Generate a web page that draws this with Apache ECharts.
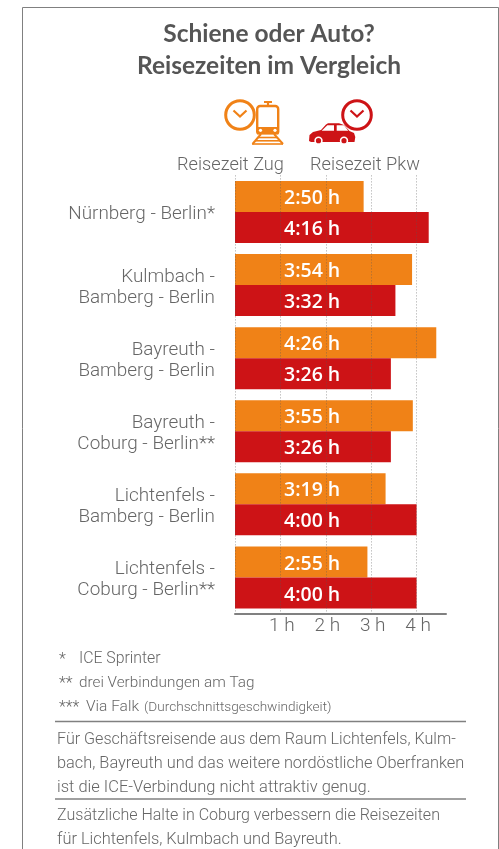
<!DOCTYPE html>
<html><head><meta charset="utf-8">
<style>html,body{margin:0;padding:0;background:#fff}#c{width:499px;height:849px}</style>
<script src="https://cdn.jsdelivr.net/npm/echarts@6/dist/echarts.min.js"></script>
</head><body><div id="c"></div>
<script>
const routes = ['Nürnberg - Berlin*','Kulmbach -\nBamberg - Berlin','Bayreuth -\nBamberg - Berlin','Bayreuth -\nCoburg - Berlin**','Lichtenfels -\nBamberg - Berlin','Lichtenfels -\nCoburg - Berlin**'];
const trainMinutes = [170,234,266,235,199,175];
const carMinutes = [256,212,206,206,240,240];
const hourTicks = [60,120,180,240];
const titleText = 'Schiene oder Auto?\nReisezeiten im Vergleich';
const ORANGE='#f08217', RED='#cd1316', GREY='#666666', FONT='Lato', BODY='Roboto';
const fmt = m => Math.floor(m/60)+':'+String(m%60).padStart(2,'0')+' h';

function txt(x,y,text,size,extra){return {type:'text',x,y,silent:true,style:Object.assign({text,fill:GREY,font:`300 ${size||17}px ${BODY}`,textVerticalAlign:'middle'},extra||{})};}
function clock(cx,cy,col){return [
 {type:'circle',shape:{cx,cy,r:14.3},style:{fill:'#fff',stroke:col,lineWidth:3},silent:true},
 {type:'polyline',shape:{points:[[cx-6.5,cy-4.5],[cx,cy+1.5],[cx+6.5,cy-4.5]]},style:{fill:null,stroke:col,lineWidth:2.2},silent:true}];}
function poly(points,col){return {type:'polygon',shape:{points},style:{fill:col},silent:true};}
function line(x1,y1,x2,y2,col,w){return {type:'line',shape:{x1,y1,x2,y2},style:{stroke:col,lineWidth:w},silent:true};}

const graphics = [
 {type:'rect',shape:{x:22.5,y:7.5,width:476,height:860},style:{fill:null,stroke:'#808080',lineWidth:1},silent:true},
 // train icon
 line(268,101,268,105,ORANGE,2.2), line(264,102,272,102,ORANGE,2),
 {type:'rect',shape:{x:257.2,y:106,width:21,height:27,r:[3,3,1,1]},style:{fill:'#fff',stroke:ORANGE,lineWidth:2.4},silent:true},
 {type:'rect',shape:{x:257,y:127,width:21.4,height:7.5},style:{fill:ORANGE},silent:true},
 {type:'circle',shape:{cx:260.5,cy:130.3,r:1.6},style:{fill:'#fff'},silent:true},
 {type:'circle',shape:{cx:275,cy:130.3,r:1.6},style:{fill:'#fff'},silent:true},
 line(261,134,252.5,144,ORANGE,2), line(274,134,283,144,ORANGE,2),
 line(258,137.5,277,137.5,ORANGE,1.6), line(255,140.8,280,140.8,ORANGE,1.6), line(252,144,283,144,ORANGE,1.6),
 ...clock(240,115,ORANGE),
 // car icon
 poly([[309,141],[309.5,135],[313,132],[321,130],[326,124.5],[328,123.3],[339,123.3],[344,125],[349.5,131],[354,133],[355.3,137],[354.5,142],[311,142]],RED),
 poly([[321.7,130.7],[327.3,125.3],[334,125.3],[334,130.7]],'#fff'),
 poly([[336.7,125.3],[344,125.3],[348.3,130.7],[336.7,130.7]],'#fff'),
 {type:'circle',shape:{cx:318.5,cy:140.7,r:3.4},style:{fill:RED,stroke:'#fff',lineWidth:1.6},silent:true},
 {type:'circle',shape:{cx:344,cy:140.7,r:3.4},style:{fill:RED,stroke:'#fff',lineWidth:1.6},silent:true},
 ...clock(357,115,RED),
 // footnotes
 txt(59,659.5,'*',16), txt(79,659.5,'ICE Sprinter',15.8),
 txt(59,683.5,'**',16), txt(79,683.5,'drei Verbindungen am Tag',15.3),
 txt(59,707.5,'***',16), txt(86,707.5,'Via Falk',15.5), txt(144,708,'(Durchschnittsgeschwindigkeit)',13.6),
 line(55,721.5,466,721.5,'#808080',1.5),
 txt(57,740,'Für Geschäftsreisende aus dem Raum Lichtenfels, Kulm-',16.1),
 txt(57,764,'bach, Bayreuth und das weitere nordöstliche Oberfranken',16.35),
 txt(57,788,'ist die ICE-Verbindung nicht attraktiv genug.',16.5),
 line(55,799,466,799,'#808080',1.5),
 txt(57,816,'Zusätzliche Halte in Coburg verbessern die Reisezeiten',16.05),
 txt(57,840,'für Lichtenfels, Kulmbach und Bayreuth.',16.4)
];

const chart = echarts.init(document.getElementById('c'),null,{renderer:'canvas'});
const barLabel = {show:true,position:'insideLeft',distance:49,offset:[0,2],color:'#fff',fontFamily:'Open Sans',fontWeight:600,fontSize:19.5,
  formatter:p=>fmt(p.value)};
chart.setOption({
 animation:false,
 textStyle:{fontFamily:FONT},
 title:{text:titleText,left:264,top:13,textAlign:'center',
   textStyle:{color:'#555',fontFamily:FONT,fontWeight:700,fontSize:24.5,lineHeight:32}},
 legend:{left:167,top:151,itemWidth:0,itemHeight:0,itemGap:21,selectedMode:false,icon:'rect',
   itemStyle:{opacity:0},
   textStyle:{color:GREY,fontFamily:BODY,fontWeight:300,fontSize:18.2},
   data:['Reisezeit Zug','Reisezeit Pkw']},
 grid:{left:235,top:175.4,width:211,height:438.6,containLabel:false},
 xAxis:{type:'value',min:0,max:278.85,interval:60,z:3,
   axisLine:{show:true,lineStyle:{color:'#808080',width:2}},
   axisTick:{show:false,customValues:[0].concat(hourTicks)},
   axisLabel:{customValues:hourTicks,formatter:v=>(v/60)+' h',color:GREY,fontFamily:BODY,fontWeight:300,fontSize:19,margin:3,padding:[0,0,0,3]},
   splitLine:{show:true,lineStyle:{color:'rgba(90,90,90,0.55)',type:[1,2],width:1}}},
 yAxis:{type:'category',inverse:true,data:routes,
   axisLine:{show:false},axisTick:{show:false},
   axisLabel:{margin:20,align:'right',color:GREY,fontFamily:BODY,fontWeight:300,fontSize:18.9,lineHeight:21,verticalAlign:'middle',
     formatter:v=>'{p|}\n'.repeat(0)+v.split('\n').map(s=>'{a|'+s+'}').join('\n'),
     rich:{a:{color:GREY,fontFamily:BODY,fontWeight:300,fontSize:18.9,lineHeight:21,padding:[5,0,0,0]}}}},
 series:[
  {name:'Reisezeit Zug',type:'bar',data:trainMinutes,barWidth:31,barGap:0,itemStyle:{color:ORANGE},label:barLabel},
  {name:'Reisezeit Pkw',type:'bar',data:carMinutes,barWidth:31,barGap:0,itemStyle:{color:RED},label:barLabel}
 ],
 graphic:graphics
});
</script></body></html>
